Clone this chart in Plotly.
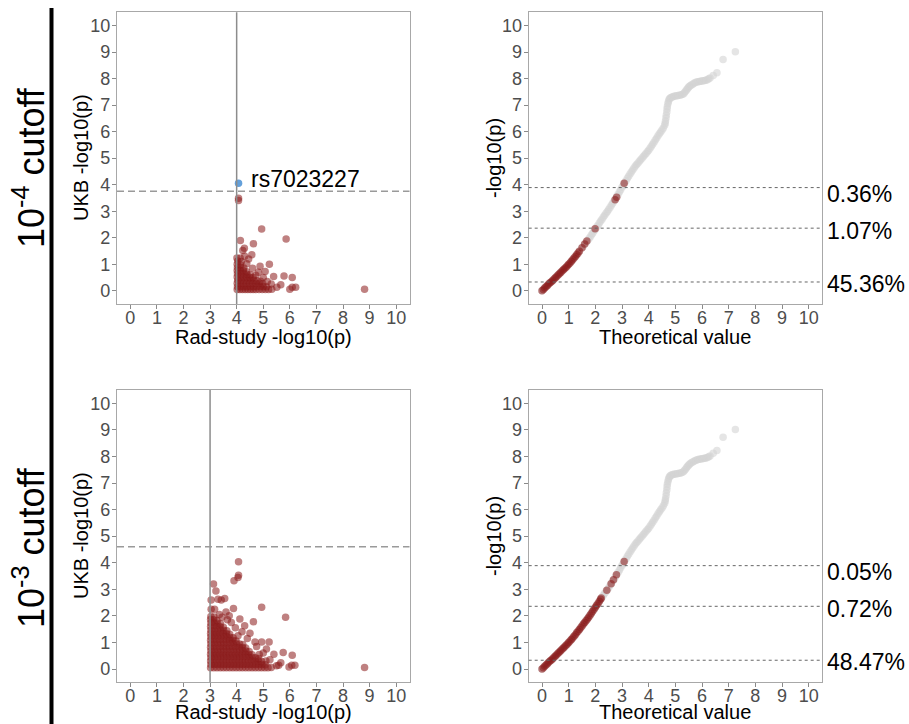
import plotly.graph_objects as go

# ---------------- data ----------------
tick_values = [0, 1, 2, 3, 4, 5, 6, 7, 8, 9, 10]
tick_labels = ["0", "1", "2", "3", "4", "5", "6", "7", "8", "9", "10"]

rad_cutoffs = [4, 3]            # vertical line on left panels (-log10 p)
ukb_thresholds = [3.75, 4.6]    # dashed horizontal line on left panels
qq_lines = [3.89, 2.36, 0.33]   # dotted lines on QQ panels
pct_top = ["0.36%", "1.07%", "45.36%"]
pct_bottom = ["0.05%", "0.72%", "48.47%"]
row_labels = ["10<sup>-4</sup> cutoff", "10<sup>-3</sup> cutoff"]

highlight_snp = "rs7023227"
highlight_x = [4.07]
highlight_y = [4.05]

# Panel 1: SNPs with Rad-study p < 1e-4 (x = rad -log10 p, y = UKB -log10 p)
p1_pts = [
    (4.02, 0.05), (4.12, 0.05), (4.22, 0.05), (4.32, 0.05), (4.42, 0.05), (4.52, 0.05),
    (4.62, 0.05), (4.72, 0.05), (4.84, 0.05), (4.96, 0.05), (5.08, 0.05), (5.2, 0.05), (5.32, 0.06),
    (4.03, 0.15), (4.15, 0.15), (4.27, 0.15), (4.39, 0.15), (4.51, 0.15), (4.63, 0.15),
    (4.75, 0.15), (4.88, 0.15), (5.0, 0.15), (5.12, 0.15),
    (4.02, 0.28), (4.13, 0.28), (4.25, 0.28), (4.37, 0.28), (4.49, 0.28), (4.61, 0.28),
    (4.73, 0.28), (4.86, 0.28), (4.98, 0.26),
    (4.04, 0.4), (4.16, 0.4), (4.28, 0.4), (4.4, 0.4), (4.52, 0.4), (4.64, 0.4), (4.76, 0.38), (4.9, 0.36),
    (4.02, 0.52), (4.14, 0.52), (4.26, 0.52), (4.38, 0.52), (4.5, 0.5), (4.62, 0.5),
    (4.03, 0.64), (4.15, 0.64), (4.27, 0.64), (4.39, 0.62), (4.51, 0.6),
    (4.02, 0.76), (4.13, 0.76), (4.25, 0.76), (4.37, 0.72),
    (4.03, 0.88), (4.15, 0.88), (4.27, 0.86),
    (4.02, 1.0), (4.14, 0.98), (4.04, 1.12), (4.18, 1.1),
    (4.01, 1.23), (4.13, 1.23), (4.07, 3.49), (4.07, 3.4),
    (4.94, 2.33), (5.86, 1.95), (4.14, 1.89), (4.63, 1.77), (4.29, 1.6), (4.23, 1.52),
    (4.57, 1.36), (4.88, 0.92), (5.23, 1.0), (5.78, 0.56), (6.09, 0.5), (5.07, 0.73),
    (5.39, 0.54), (6.09, 0.13), (6.22, 0.13), (6.0, 0.06), (5.66, 0.23), (5.51, 0.13),
    (8.81, 0.06), (4.72, 0.58), (4.38, 1.02), (4.6, 0.85), (4.82, 0.7), (5.0, 0.5),
    (5.15, 0.35), (5.3, 0.25), (4.45, 1.2), (4.3, 1.3),
]

# Panel 3: SNPs with Rad-study p < 1e-3
p3_pts = [
    (3.02, 0.05), (3.14, 0.05), (3.26, 0.05), (3.38, 0.05), (3.5, 0.05), (3.62, 0.05), (3.74, 0.05),
    (3.86, 0.05), (3.98, 0.05), (4.1, 0.05), (4.22, 0.05), (4.34, 0.05), (4.46, 0.05), (4.58, 0.05),
    (4.7, 0.05), (4.82, 0.05), (4.94, 0.05), (5.06, 0.05), (5.18, 0.05), (5.3, 0.06),
    (3.03, 0.17), (3.15, 0.17), (3.27, 0.17), (3.39, 0.17), (3.51, 0.17), (3.63, 0.17), (3.75, 0.17),
    (3.87, 0.17), (3.99, 0.17), (4.11, 0.17), (4.23, 0.17), (4.35, 0.17), (4.47, 0.17), (4.59, 0.17),
    (4.71, 0.17), (4.83, 0.17), (4.95, 0.17), (5.07, 0.16),
    (3.02, 0.3), (3.14, 0.3), (3.26, 0.3), (3.38, 0.3), (3.5, 0.3), (3.62, 0.3), (3.74, 0.3),
    (3.86, 0.3), (3.98, 0.3), (4.1, 0.3), (4.22, 0.3), (4.34, 0.3), (4.46, 0.3), (4.58, 0.3),
    (4.7, 0.3), (4.82, 0.29), (4.94, 0.28),
    (3.03, 0.43), (3.15, 0.43), (3.27, 0.43), (3.39, 0.43), (3.51, 0.43), (3.63, 0.43), (3.75, 0.43),
    (3.87, 0.43), (3.99, 0.43), (4.11, 0.43), (4.23, 0.43), (4.35, 0.43), (4.47, 0.43), (4.59, 0.43),
    (4.71, 0.42), (4.83, 0.4),
    (3.02, 0.56), (3.14, 0.56), (3.26, 0.56), (3.38, 0.56), (3.5, 0.56), (3.62, 0.56), (3.74, 0.56),
    (3.86, 0.56), (3.98, 0.56), (4.1, 0.56), (4.22, 0.56), (4.34, 0.56), (4.46, 0.55), (4.58, 0.54),
    (3.03, 0.69), (3.15, 0.69), (3.27, 0.69), (3.39, 0.69), (3.51, 0.69), (3.63, 0.69), (3.75, 0.69),
    (3.87, 0.69), (3.99, 0.69), (4.11, 0.69), (4.23, 0.69), (4.35, 0.68), (4.47, 0.66),
    (3.02, 0.82), (3.14, 0.82), (3.26, 0.82), (3.38, 0.82), (3.5, 0.82), (3.62, 0.82), (3.74, 0.82),
    (3.86, 0.82), (3.98, 0.82), (4.1, 0.82), (4.22, 0.81), (4.34, 0.79),
    (3.03, 0.95), (3.15, 0.95), (3.27, 0.95), (3.39, 0.95), (3.51, 0.95), (3.63, 0.95), (3.75, 0.95),
    (3.87, 0.95), (3.99, 0.95), (4.11, 0.94), (4.23, 0.92),
    (3.02, 1.08), (3.14, 1.08), (3.26, 1.08), (3.38, 1.08), (3.5, 1.08), (3.62, 1.08), (3.74, 1.08),
    (3.86, 1.07), (3.98, 1.05),
    (3.03, 1.21), (3.15, 1.21), (3.27, 1.21), (3.39, 1.21), (3.51, 1.21), (3.63, 1.21), (3.75, 1.2),
    (3.87, 1.18),
    (3.02, 1.34), (3.14, 1.34), (3.26, 1.34), (3.38, 1.34), (3.5, 1.34), (3.62, 1.33), (3.74, 1.31),
    (3.03, 1.47), (3.15, 1.47), (3.27, 1.47), (3.39, 1.47), (3.51, 1.46), (3.63, 1.44),
    (3.02, 1.6), (3.14, 1.6), (3.26, 1.6), (3.38, 1.59), (3.5, 1.57),
    (3.03, 1.73), (3.15, 1.73), (3.27, 1.72), (3.39, 1.7),
    (3.02, 1.86), (3.14, 1.85), (3.26, 1.83),
    (3.03, 1.98), (3.15, 1.96),
    (4.07, 4.04), (4.07, 3.53), (4.05, 3.44), (3.9, 3.32), (3.13, 3.2), (3.22, 2.94),
    (3.04, 2.6), (3.3, 2.63), (3.42, 2.6), (3.55, 2.65), (4.94, 2.32), (5.84, 1.95),
    (3.17, 2.25), (3.04, 2.25), (3.88, 2.28), (3.6, 2.15), (4.12, 1.88), (4.63, 1.78),
    (3.35, 2.05), (3.72, 2.0), (4.3, 1.63), (4.5, 1.35), (4.69, 1.02), (4.94, 1.02),
    (5.22, 1.02), (5.12, 0.75), (5.4, 0.56), (5.75, 0.62), (6.09, 0.52), (5.66, 0.24),
    (6.19, 0.14), (6.07, 0.14), (5.97, 0.08), (5.5, 0.12), (5.58, 0.14), (8.81, 0.06),
    (3.95, 1.55), (4.2, 1.4), (3.8, 1.75), (4.05, 1.25), (4.4, 1.15), (4.75, 0.85),
    (5.0, 0.6), (5.25, 0.35), (3.65, 1.85), (3.45, 1.95), (4.85, 0.55), (5.1, 0.3),
]

# QQ curve (all SNPs): theoretical vs observed -log10 p
qq_all = [
    (0.0, 0.0), (0.1, 0.1), (0.2, 0.2), (0.3, 0.3), (0.4, 0.39), (0.5, 0.49), (0.6, 0.59),
    (0.7, 0.69), (0.8, 0.79), (0.9, 0.89), (1.0, 1.0), (1.1, 1.11), (1.2, 1.23), (1.3, 1.36),
    (1.4, 1.49), (1.5, 1.62), (1.55, 1.69), (1.6, 1.75), (1.65, 1.82), (1.7, 1.88), (1.75, 1.95),
    (1.8, 2.02), (1.85, 2.1), (1.9, 2.17), (1.95, 2.25), (2.0, 2.32), (2.05, 2.4),
    (2.1, 2.47), (2.15, 2.55), (2.2, 2.63), (2.25, 2.7), (2.3, 2.78), (2.35, 2.85), (2.4, 2.92),
    (2.45, 2.99), (2.5, 3.06), (2.55, 3.14), (2.6, 3.22), (2.65, 3.3), (2.7, 3.37), (2.75, 3.46),
    (2.8, 3.55), (2.85, 3.63), (2.9, 3.72), (2.95, 3.81), (3.0, 3.9), (3.05, 3.98), (3.1, 4.07),
    (3.15, 4.15), (3.2, 4.24), (3.25, 4.32), (3.3, 4.4), (3.35, 4.48), (3.4, 4.55), (3.45, 4.63),
    (3.5, 4.7), (3.55, 4.76), (3.6, 4.82), (3.65, 4.88), (3.7, 4.94), (3.75, 5.0), (3.8, 5.06),
    (3.85, 5.12), (3.9, 5.18), (3.95, 5.24), (4.0, 5.3), (4.05, 5.37), (4.1, 5.45), (4.15, 5.52),
    (4.2, 5.6), (4.25, 5.68), (4.3, 5.76), (4.35, 5.84), (4.4, 5.92), (4.45, 5.99), (4.5, 6.06),
    (4.55, 6.14), (4.6, 6.24), (4.62, 6.32), (4.63, 6.4), (4.65, 6.51), (4.66, 6.62), (4.68, 6.74),
    (4.69, 6.85), (4.7, 6.95), (4.72, 7.05), (4.74, 7.13), (4.76, 7.2), (4.79, 7.25), (4.82, 7.28),
    (4.86, 7.3), (4.9, 7.32), (4.95, 7.33), (5.0, 7.34), (5.05, 7.35), (5.1, 7.36), (5.15, 7.37),
    (5.2, 7.38), (5.25, 7.4), (5.3, 7.42), (5.34, 7.47), (5.38, 7.52), (5.42, 7.57), (5.45, 7.62),
    (5.49, 7.66), (5.52, 7.7), (5.56, 7.73), (5.6, 7.76), (5.65, 7.79), (5.7, 7.82), (5.75, 7.85),
    (5.8, 7.87), (5.85, 7.88), (5.9, 7.89), (5.95, 7.9), (6.0, 7.91), (6.05, 7.92), (6.1, 7.93),
    (6.15, 7.94), (6.2, 7.96), (6.25, 7.99), (6.3, 8.02), (6.42, 8.12), (6.56, 8.22),
    (6.79, 8.72), (7.25, 9.01),
]

# QQ points of the SNPs that pass the Rad-study cutoff
qq_sel_top = [
    (0.0, 0.0), (0.05, 0.05), (0.1, 0.1), (0.15, 0.15), (0.2, 0.2), (0.25, 0.25), (0.3, 0.3),
    (0.35, 0.34), (0.4, 0.39), (0.45, 0.44), (0.5, 0.49), (0.55, 0.54), (0.6, 0.59), (0.65, 0.64),
    (0.7, 0.69), (0.75, 0.74), (0.8, 0.79), (0.85, 0.84), (0.9, 0.89), (0.95, 0.94), (1.0, 1.0),
    (1.05, 1.05), (1.1, 1.11), (1.15, 1.17), (1.2, 1.23), (1.25, 1.29), (1.3, 1.36), (1.35, 1.42),
    (1.4, 1.49), (1.5, 1.62), (1.6, 1.76), (1.68, 1.88), (1.99, 2.34), (2.74, 3.43), (2.8, 3.53),
    (3.08, 4.05),
]
qq_sel_bottom = [
    (0.0, 0.0), (0.05, 0.05), (0.1, 0.1), (0.15, 0.15), (0.2, 0.2), (0.25, 0.25), (0.3, 0.3),
    (0.35, 0.34), (0.4, 0.39), (0.45, 0.44), (0.5, 0.49), (0.55, 0.54), (0.6, 0.59), (0.65, 0.64),
    (0.7, 0.69), (0.75, 0.74), (0.8, 0.79), (0.85, 0.84), (0.9, 0.89), (0.95, 0.94), (1.0, 1.0),
    (1.05, 1.05), (1.1, 1.11), (1.15, 1.17), (1.2, 1.23), (1.25, 1.29), (1.3, 1.36), (1.35, 1.42),
    (1.4, 1.49), (1.45, 1.55), (1.5, 1.62), (1.55, 1.69), (1.6, 1.75), (1.65, 1.82), (1.7, 1.88),
    (1.75, 1.95), (1.8, 2.02), (1.85, 2.1), (1.9, 2.17), (1.95, 2.25), (2.0, 2.32), (2.05, 2.4),
    (2.1, 2.47), (2.15, 2.55), (2.2, 2.63), (2.22, 2.67), (2.43, 2.96), (2.59, 3.21),
    (2.68, 3.36), (2.79, 3.55), (3.08, 4.05),
]

# ---------------- styling ----------------
W, H = 909, 724
RED = "rgb(139,26,26)"
GREY = "rgb(211,211,211)"
BLUE = "rgb(100,160,218)"
FONT = "Liberation Sans, Arial, Helvetica, sans-serif"
MS = 7.5

def xs(p):
    return [a for a, _ in p]

def ys(p):
    return [b for _, b in p]

def pxx(v):
    return v / W

def pxy(v):
    return 1 - v / H

col_dom = [[pxx(117), pxx(409.5)], [pxx(528.7), pxx(822)]]
row_dom = [[pxy(304), pxy(12.3)], [pxy(682.3), pxy(390)]]

fig = go.Figure()

def scat(p, color, ax, op):
    fig.add_trace(go.Scatter(
        x=xs(p), y=ys(p), mode="markers",
        marker=dict(size=MS, color=color, opacity=op, line=dict(width=0)),
        xaxis="x" + ax, yaxis="y" + ax, showlegend=False, hoverinfo="skip"))

scat(p1_pts, RED, "", 0.55)
fig.add_trace(go.Scatter(x=highlight_x, y=highlight_y, mode="markers",
                         marker=dict(size=MS, color=BLUE, line=dict(width=0)),
                         xaxis="x", yaxis="y", showlegend=False, hoverinfo="skip"))
scat(qq_all, GREY, "2", 0.6)
scat(qq_sel_top, RED, "2", 0.55)
scat(p3_pts, RED, "3", 0.55)
scat(qq_all, GREY, "4", 0.6)
scat(qq_sel_bottom, RED, "4", 0.55)

axis_common = dict(
    range=[-0.5, 10.5], tickvals=tick_values, ticktext=tick_labels,
    showgrid=False, zeroline=False, showline=True, mirror=True,
    linecolor="#a8a8a8", linewidth=1.2, ticks="outside", ticklen=4,
    tickcolor="#8a8a8a", tickwidth=1,
    tickfont=dict(family=FONT, size=18, color="#4d4d4d"),
)

layout_axes = {}
names = ["", "2", "3", "4"]
for i, nm in enumerate(names):
    r, c = divmod(i, 2)
    layout_axes["xaxis" + nm] = dict(axis_common, domain=col_dom[c], anchor="y" + nm,
                                     ticklabelstandoff=-7)
    layout_axes["yaxis" + nm] = dict(axis_common, domain=row_dom[r], anchor="x" + nm,
                                     ticklabelstandoff=-2)

shapes = []
annotations = []
for r, nm_l, nm_q, pct in [(0, "", "2", pct_top), (1, "3", "4", pct_bottom)]:
    shapes.append(dict(type="line", xref="x" + nm_l, yref="y" + nm_l + " domain",
                       x0=rad_cutoffs[r], x1=rad_cutoffs[r], y0=0, y1=1,
                       line=dict(color="#8c8c8c", width=1.5), layer="above"))
    shapes.append(dict(type="line", xref="x" + nm_l + " domain", yref="y" + nm_l,
                       x0=0, x1=1, y0=ukb_thresholds[r], y1=ukb_thresholds[r],
                       line=dict(color="#9a9a9a", width=1.5, dash="7px,4px"), layer="above"))
    shifts = [-6, -3, -2]
    for k, yv in enumerate(qq_lines):
        shapes.append(dict(type="line", xref="x" + nm_q + " domain", yref="y" + nm_q,
                           x0=0, x1=1, y0=yv, y1=yv,
                           line=dict(color="#666666", width=1, dash="dot"), layer="above"))
        annotations.append(dict(xref="paper", yref="y" + nm_q, x=pxx(825), y=yv,
                                xanchor="left", yanchor="middle", yshift=shifts[k],
                                text=pct[k], showarrow=False,
                                font=dict(family=FONT, size=23, color="black")))
    ty = [337, 712][r]
    annotations.append(dict(xref="paper", yref="paper", x=pxx(263), y=pxy(ty),
                            text="Rad-study -log10(p)", showarrow=False,
                            xanchor="center", yanchor="middle",
                            font=dict(family=FONT, size=20, color="black")))
    annotations.append(dict(xref="paper", yref="paper", x=pxx(675), y=pxy(ty),
                            text="Theoretical value", showarrow=False,
                            xanchor="center", yanchor="middle",
                            font=dict(family=FONT, size=20, color="black")))
    yc = [158, 536][r]
    annotations.append(dict(xref="paper", yref="paper", x=pxx(81), y=pxy(yc),
                            text="UKB -log10(p)", showarrow=False, textangle=-90,
                            xanchor="center", yanchor="middle",
                            font=dict(family=FONT, size=20, color="black")))
    annotations.append(dict(xref="paper", yref="paper", x=pxx(494), y=pxy(yc),
                            text="-log10(p)", showarrow=False, textangle=-90,
                            xanchor="center", yanchor="middle",
                            font=dict(family=FONT, size=20, color="black")))
    annotations.append(dict(xref="paper", yref="paper", x=pxx(29), y=pxy([168, 548][r]),
                            text=row_labels[r], showarrow=False, textangle=-90,
                            xanchor="center", yanchor="middle",
                            font=dict(family=FONT, size=36, color="black")))

annotations.append(dict(xref="x", yref="y", x=highlight_x[0], y=highlight_y[0],
                        text=highlight_snp, showarrow=False, xanchor="left",
                        yanchor="middle", xshift=10, yshift=4,
                        font=dict(family=FONT, size=23, color="black")))

shapes.append(dict(type="line", xref="paper", yref="paper", x0=pxx(51.5), x1=pxx(51.5),
                   y0=0, y1=pxy(8), line=dict(color="black", width=4)))

fig.update_layout(
    width=W, height=H, margin=dict(l=0, r=0, t=0, b=0),
    paper_bgcolor="white", plot_bgcolor="white",
    shapes=shapes, annotations=annotations, showlegend=False,
    **layout_axes,
)

fig.write_html(
    "out.html",
    config={"displayModeBar": False},
    post_script="document.body.style.margin='0px';document.body.style.padding='0px';document.body.style.overflow='hidden';",
)
